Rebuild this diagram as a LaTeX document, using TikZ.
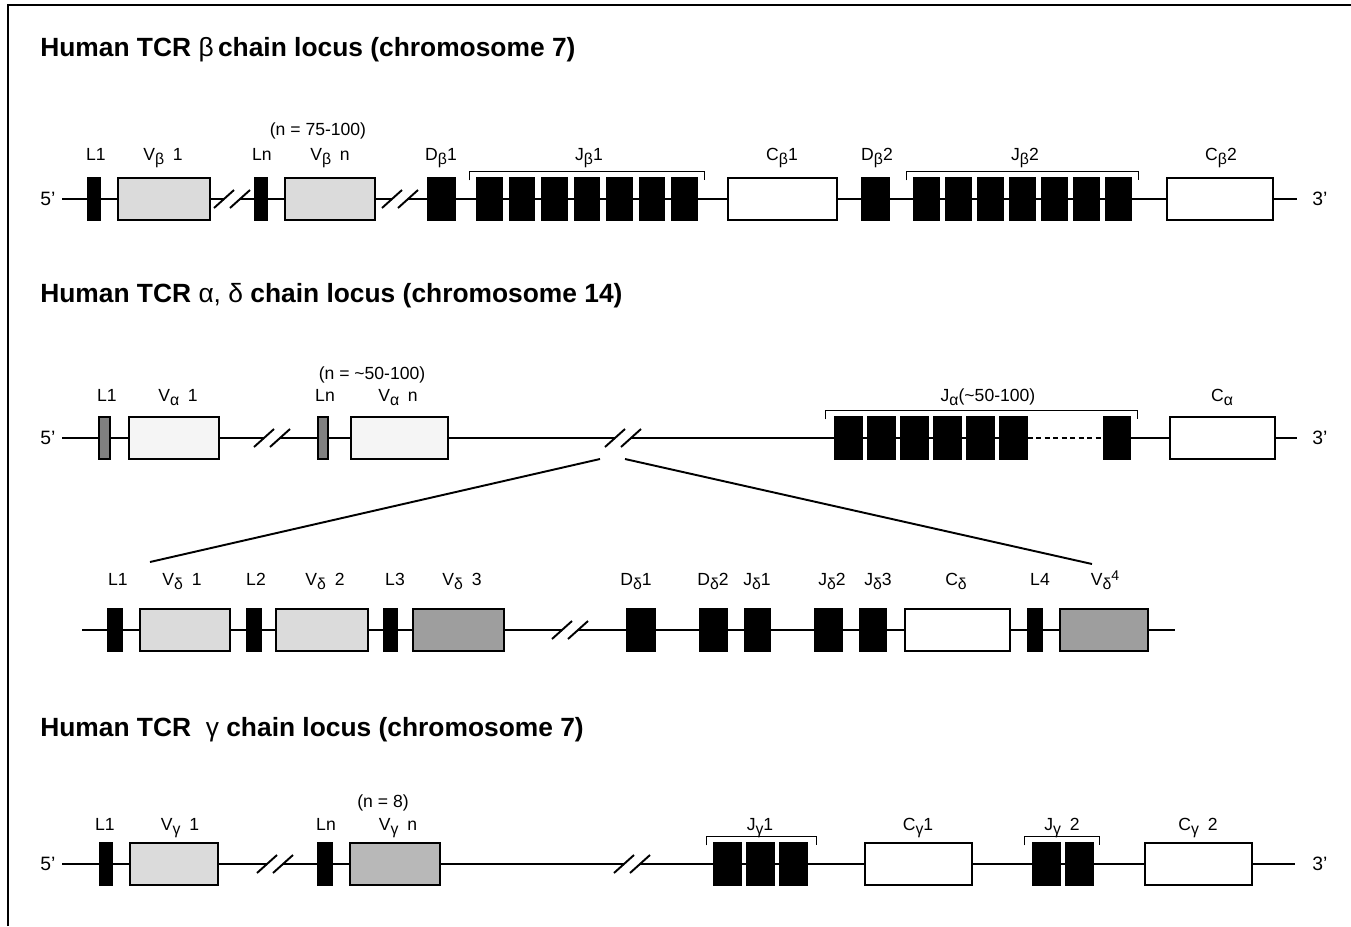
\documentclass[tikz,border=0pt]{standalone}
\usepackage{fontspec}
\setmainfont{Liberation Sans}
\usetikzlibrary{positioning,calc}
\newcommand{\gsub}[1]{\raisebox{-0.45ex}{\small #1}}

\begin{document}
\begin{tikzpicture}[x=0.2mm, y=-0.2mm,
  seg/.style={draw, line width=0.7pt, inner sep=0pt, minimum height=8.4mm},
  jx/.style={seg, fill=black},
  lg/.style={seg, fill=black!50},
  vx/.style={seg, fill=black!14},
  va/.style={seg, fill=black!4},
  vd/.style={seg, fill=black!38},
  vg/.style={seg, fill=black!28},
  cx/.style={seg, fill=white},
  dna/.style={line width=1.1pt},
  lbl/.style={font=\fontsize{10}{12}\selectfont, anchor=base, inner sep=1pt},
  ttl/.style={font=\fontsize{15}{17}\selectfont\bfseries, anchor=west, inner sep=0pt},
  prime/.style={font=\fontsize{11}{13}\selectfont, inner sep=1pt},
  slash/.style={line width=1.1pt},
  clamp/.style={line width=0.9pt}]
\useasboundingbox (0,0) rectangle (1351,926);
\draw[line width=0.9pt] (8,926) -- (8,5) -- (1351,5);

% titles
\node[ttl] (tb) at (40,50) {Human TCR {\mdseries β}\,chain locus (chromosome 7)};
\node[ttl] (tad) at (40,296) {Human TCR {\mdseries α, δ} chain locus (chromosome 14)};
\node[ttl] (tg) at (40,730) {Human TCR \ {\mdseries γ} chain locus (chromosome 7)};

% beta locus
\foreach \n/\s/\xa/\xb in {bL1/jx/88/100, bV1/vx/118/210, bLn/jx/255/267, bVn/vx/285/375,
  bD1/jx/428/455, bC1/cx/728/837, bD2/jx/862/889, bC2/cx/1167/1273}
  \node[\s, minimum width={(\xb-\xa)*0.2mm}] (\n) at ({(\xa+\xb)/2},199) {};
\foreach \i in {1,...,7} {
  \node[jx, minimum width=5mm] (bJ1-\i) at ({489.5+(\i-1)*32.5},199) {};
  \node[jx, minimum width=5mm] (bJ2-\i) at ({926.5+(\i-1)*32},199) {};
}
\coordinate (bS) at (62,199);
\coordinate (bE) at (1297,199);
\coordinate (bk1) at (232,199);
\coordinate (bk2) at (400,199);
\node[prime] (b5) at (48,199) {5'};
\node[prime] (b3) at (1320,199) {3'};
\draw[dna] (bS) -- (bL1) -- (bV1) -- ([xshift=-1.6mm]bk1);
\draw[dna] ([xshift=1.6mm]bk1) -- (bLn) -- (bVn) -- ([xshift=-1.6mm]bk2);
\draw[dna] ([xshift=1.6mm]bk2) -- (bD1) -- (bJ1-1);
\foreach \i [count=\j from 2] in {1,...,6} {
  \draw[dna] (bJ1-\i) -- (bJ1-\j);
  \draw[dna] (bJ2-\i) -- (bJ2-\j);
}
\draw[dna] (bJ1-7) -- (bC1) -- (bD2) -- (bJ2-1);
\draw[dna] (bJ2-7) -- (bC2) -- (bE);
\draw[clamp] ([shift={(-7,3)}]bJ1-1.north west) -- ++(0,-9) -| ([shift={(7,3)}]bJ1-7.north east);
\draw[clamp] ([shift={(-7,3)}]bJ2-1.north west) -- ++(0,-9) -| ([shift={(7,3)}]bJ2-7.north east);
\foreach \t/\x [count=\i] in {L1/96, {V\gsub{β}\enspace 1}/163, Ln/262, {V\gsub{β}\enspace n}/330,
  {D\gsub{β}1}/441, {J\gsub{β}1}/589, {C\gsub{β}1}/782, {D\gsub{β}2}/877,
  {J\gsub{β}2}/1025, {C\gsub{β}2}/1221}
  \node[lbl] (bl\i) at (\x,160) {\t};
\node[lbl] (bn) at (318,135) {(n = 75-100)};

% alpha locus
\foreach \n/\s/\xa/\xb in {aL1/lg/99/110, aV1/va/129/219, aLn/lg/318/328, aVn/va/351/448,
  aJx/jx/1104/1130, aC/cx/1170/1275}
  \node[\s, minimum width={(\xb-\xa)*0.2mm}] (\n) at ({(\xa+\xb)/2},438) {};
\foreach \i in {1,...,6}
  \node[jx, minimum width=5.4mm] (aJ-\i) at ({848.5+(\i-1)*33},438) {};
\coordinate (aS) at (62,438);
\coordinate (aE) at (1297,438);
\coordinate (ak1) at (272,438);
\coordinate (ak2) at (623,438);
\node[prime] (a5) at (48,438) {5'};
\node[prime] (a3) at (1320,438) {3'};
\draw[dna] (aS) -- (aL1) -- (aV1) -- ([xshift=-1.6mm]ak1);
\draw[dna] ([xshift=1.6mm]ak1) -- (aLn) -- (aVn) -- ([xshift=-1.6mm]ak2);
\draw[dna] ([xshift=1.6mm]ak2) -- (aJ-1);
\foreach \i [count=\j from 2] in {1,...,5}
  \draw[dna] (aJ-\i) -- (aJ-\j);
\draw[dna, dash pattern=on 1mm off 0.7mm] (aJ-6) -- (aJx);
\draw[dna] (aJx) -- (aC) -- (aE);
\draw[clamp] ([shift={(-9,3)}]aJ-1.north west) -- ++(0,-9) -| ([shift={(7,3)}]aJx.north east);
\foreach \t/\x [count=\i] in {L1/107, {V\gsub{α}\enspace 1}/178, Ln/325, {V\gsub{α}\enspace n}/398,
  {J\gsub{α}(\textasciitilde 50-100)}/988, {C\gsub{α}}/1222}
  \node[lbl] (al\i) at (\x,401) {\t};
\node[lbl] (an) at (372,379) {(n = \textasciitilde 50-100)};

% delta locus (inside the alpha locus)
\coordinate (zl) at (600,459);
\coordinate (zr) at (625,459);
\coordinate (zdl) at (150,562);
\coordinate (zdr) at (1092,564);
\draw[dna] (zl) -- (zdl);
\draw[dna] (zr) -- (zdr);
\foreach \n/\s/\xa/\xb in {dL1/jx/108/122, dV1/vx/140/230, dL2/jx/247/261, dV2/vx/276/368,
  dL3/jx/384/397, dV3/vd/413/504, dD1/jx/627/655, dD2/jx/700/727, dJ1/jx/745/770,
  dJ2/jx/815/842, dJ3/jx/860/886, dC/cx/905/1010, dL4/jx/1028/1042, dV4/vd/1060/1148}
  \node[\s, minimum width={(\xb-\xa)*0.2mm}] (\n) at ({(\xa+\xb)/2},630) {};
\coordinate (dS) at (82,630);
\coordinate (dE) at (1175,630);
\coordinate (dk1) at (570,630);
\draw[dna] (dS) -- (dL1) -- (dV1) -- (dL2) -- (dV2) -- (dL3) -- (dV3) -- ([xshift=-1.6mm]dk1);
\draw[dna] ([xshift=1.6mm]dk1) -- (dD1) -- (dD2) -- (dJ1) -- (dJ2) -- (dJ3) -- (dC) -- (dL4) -- (dV4) -- (dE);
\foreach \t/\x [count=\i] in {L1/118, {V\gsub{δ}\enspace 1}/182, L2/256, {V\gsub{δ}\enspace 2}/325, L3/395,
  {V\gsub{δ}\enspace 3}/462, {D\gsub{δ}1}/636, {D\gsub{δ}2}/713, {J\gsub{δ}1}/757, {J\gsub{δ}2}/832,
  {J\gsub{δ}3}/878, {C\gsub{δ}}/956, L4/1040, {V\gsub{δ}\raisebox{0.5ex}{\footnotesize 4}}/1105}
  \node[lbl] (dl\i) at (\x,585) {\t};

% gamma locus
\foreach \n/\s/\xa/\xb in {gL1/jx/100/112, gV1/vx/130/218, gLn/jx/318/332, gVn/vg/350/440,
  gC1/cx/865/972, gC2/cx/1145/1252}
  \node[\s, minimum width={(\xb-\xa)*0.2mm}] (\n) at ({(\xa+\xb)/2},864) {};
\foreach \i in {1,...,3}
  \node[jx, minimum width=5.4mm] (gJ1-\i) at ({727.5+(\i-1)*33},864) {};
\foreach \i in {1,2}
  \node[jx, minimum width=5.4mm] (gJ2-\i) at ({1046.5+(\i-1)*33},864) {};
\coordinate (gS) at (62,864);
\coordinate (gE) at (1295,864);
\coordinate (gk1) at (275,864);
\coordinate (gk2) at (632,864);
\node[prime] (g5) at (48,864) {5'};
\node[prime] (g3) at (1320,864) {3'};
\draw[dna] (gS) -- (gL1) -- (gV1) -- ([xshift=-1.6mm]gk1);
\draw[dna] ([xshift=1.6mm]gk1) -- (gLn) -- (gVn) -- ([xshift=-1.6mm]gk2);
\draw[dna] ([xshift=1.6mm]gk2) -- (gJ1-1) -- (gJ1-2) -- (gJ1-3) -- (gC1) -- (gJ2-1) -- (gJ2-2) -- (gC2) -- (gE);
\draw[clamp] ([shift={(-7,3)}]gJ1-1.north west) -- ++(0,-9) -| ([shift={(9,3)}]gJ1-3.north east);
\draw[clamp] ([shift={(-8,3)}]gJ2-1.north west) -- ++(0,-9) -| ([shift={(6,3)}]gJ2-2.north east);
\foreach \t/\x [count=\i] in {L1/105, {V\gsub{γ}\enspace 1}/180, Ln/326, {V\gsub{γ}\enspace n}/398,
  {J\gsub{γ}1}/760, {C\gsub{γ}1}/918, {J\gsub{γ}\enspace 2}/1062, {C\gsub{γ}\enspace 2}/1198}
  \node[lbl] (gl\i) at (\x,830) {\t};
\node[lbl] (gn) at (383,807) {(n = 8)};

% break marks
\foreach \cc in {bk1,bk2,ak1,ak2,dk1,gk1,gk2} {
  \draw[slash] ([shift={(-18,9)}]\cc) -- ([shift={(2,-9)}]\cc);
  \draw[slash] ([shift={(-2,9)}]\cc) -- ([shift={(18,-9)}]\cc);
}
\end{tikzpicture}
\end{document}
